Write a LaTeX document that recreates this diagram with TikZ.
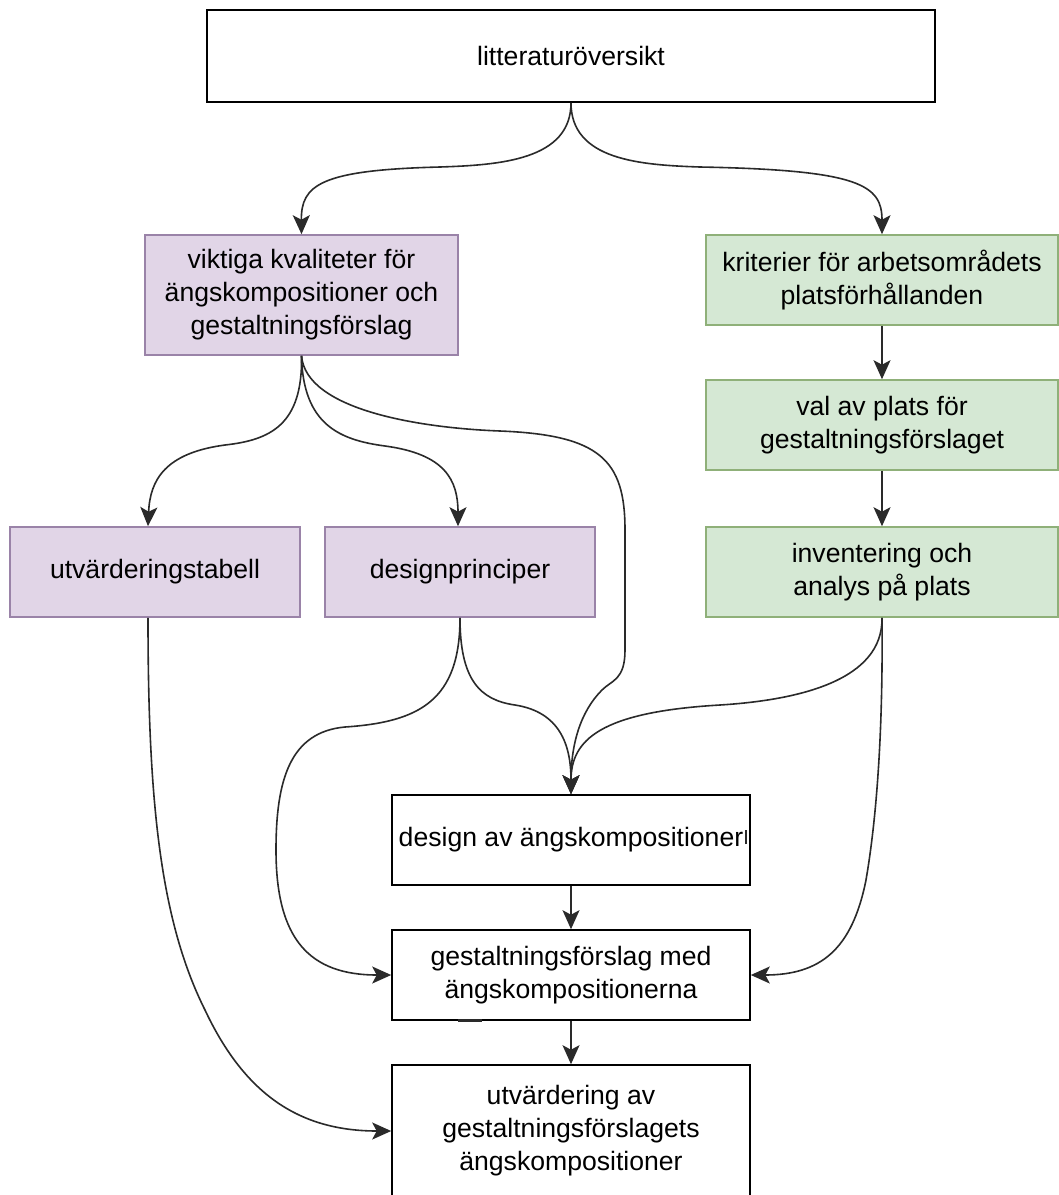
\documentclass[tikz,border=0pt]{standalone}
\usepackage{fontspec}
\setmainfont{Liberation Sans}
\usetikzlibrary{arrows.meta}
\definecolor{pfill}{HTML}{E1D5E7}
\definecolor{pline}{HTML}{9A83A8}
\definecolor{gfill}{HTML}{D5E8D4}
\definecolor{gline}{HTML}{8FB079}
\definecolor{lcol}{HTML}{2A2A2A}
\begin{document}
\begin{tikzpicture}[x=1pt,y=-1pt,
  wbox/.style={draw=black, fill=white, line width=1.6pt, align=center, inner sep=0pt,
     font=\fontsize{26.6}{33}\selectfont},
  pbox/.style={wbox, draw=pline, fill=pfill},
  gbox/.style={wbox, draw=gline, fill=gfill},
  conn/.style={draw=lcol, line width=1.6pt, -{Stealth[length=19pt,width=17pt,inset=4.5pt]}}
]
\useasboundingbox (0,0) rectangle (1059,1195);
\fill[white] (0,0) rectangle (1059,1195);

\node[wbox, minimum width=728pt, minimum height=92pt] (lit) at (571,56) {litteraturöversikt};
\node[pbox, minimum width=313pt, minimum height=120pt] (vik) at (301.5,295) {viktiga kvaliteter för\\ängskompositioner och\\gestaltningsförslag};
\node[gbox, minimum width=352pt, minimum height=90pt] (krit) at (882,280) {kriterier för arbetsområdets\\platsförhållanden};
\node[gbox, minimum width=352pt, minimum height=90pt] (val) at (882,425) {val av plats för\\gestaltningsförslaget};
\node[gbox, minimum width=352pt, minimum height=90pt] (inv) at (882,572) {inventering och\\analys på plats};
\node[pbox, minimum width=290pt, minimum height=90pt] (utv) at (155,572) {utvärderingstabell};
\node[pbox, minimum width=270pt, minimum height=90pt] (dp) at (460,572) {designprinciper};
\node[wbox, minimum width=358pt, minimum height=90pt] (da) at (571,840) {design av ängskompositioner};
\node[wbox, minimum width=358pt, minimum height=90pt] (gest) at (571,975) {gestaltningsförslag med\\ängskompositionerna};
\node[wbox, minimum width=358pt, minimum height=132pt] (utvd) at (571,1131) {utvärdering av\\gestaltningsförslagets\\ängskompositioner};

% small marks (artifacts) in the boxes
\draw[line width=2.5pt, lcol] ([xshift=-5pt,yshift=-4pt]da.east) -- ([xshift=-5pt,yshift=10pt]da.east);
\draw[line width=3pt, lcol] ([xshift=-113pt]gest.south) -- ([xshift=-89pt]gest.south);

% literature -> two branches
\path[conn] (lit.south) .. controls (571,160) and (500,165) .. (440,167)
   .. controls (320,170) and (301,185) .. (vik.north);
\path[conn] (lit.south) .. controls (571,160) and (640,165) .. (700,167)
   .. controls (860,170) and (882,185) .. (krit.north);

% green chain
\path[conn] (krit.south) -- (val.north);
\path[conn] (val.south) -- (inv.north);

% viktiga -> children
\path[conn] (vik.south) .. controls (303,425) and (270,440) .. (225,445)
   .. controls (165,453) and (150,480) .. ([xshift=-7pt]utv.north);
\path[conn] (vik.south) .. controls (303,425) and (340,440) .. (385,446)
   .. controls (445,454) and (458,480) .. ([xshift=-2pt]dp.north);
\path[conn] (vik.south) .. controls (306,410) and (420,428) .. (500,431)
   .. controls (600,435) and (625,460) .. (625,530) -- (625,650)
   .. controls (625,680) and (612,680) .. (602,690)
   .. controls (580,712) and (571,745) .. (da.north);

% designprinciper
\path[conn] (dp.south) .. controls (460,680) and (480,700) .. (515,705)
   .. controls (560,712) and (571,745) .. (da.north);
\path[conn] (dp.south) .. controls (460,700) and (420,722) .. (345,727)
   .. controls (290,732) and (276,780) .. (276,850)
   .. controls (276,940) and (310,975) .. (gest.west);

% inventering
\path[conn] (inv.south) .. controls (883,680) and (800,700) .. (720,705)
   .. controls (600,712) and (571,740) .. (da.north);
\path[conn] (inv.south) .. controls (883,720) and (878,810) .. (866,880)
   .. controls (852,950) and (820,975) .. (gest.east);

% utvarderingstabell
\path[conn] ([xshift=-7pt]utv.south) .. controls (148,800) and (160,920) .. (205,1010)
   .. controls (245,1095) and (300,1131) .. (utvd.west);

% bottom chain
\path[conn] (da.south) -- (gest.north);
\path[conn] (gest.south) -- (utvd.north);
\end{tikzpicture}
\end{document}
